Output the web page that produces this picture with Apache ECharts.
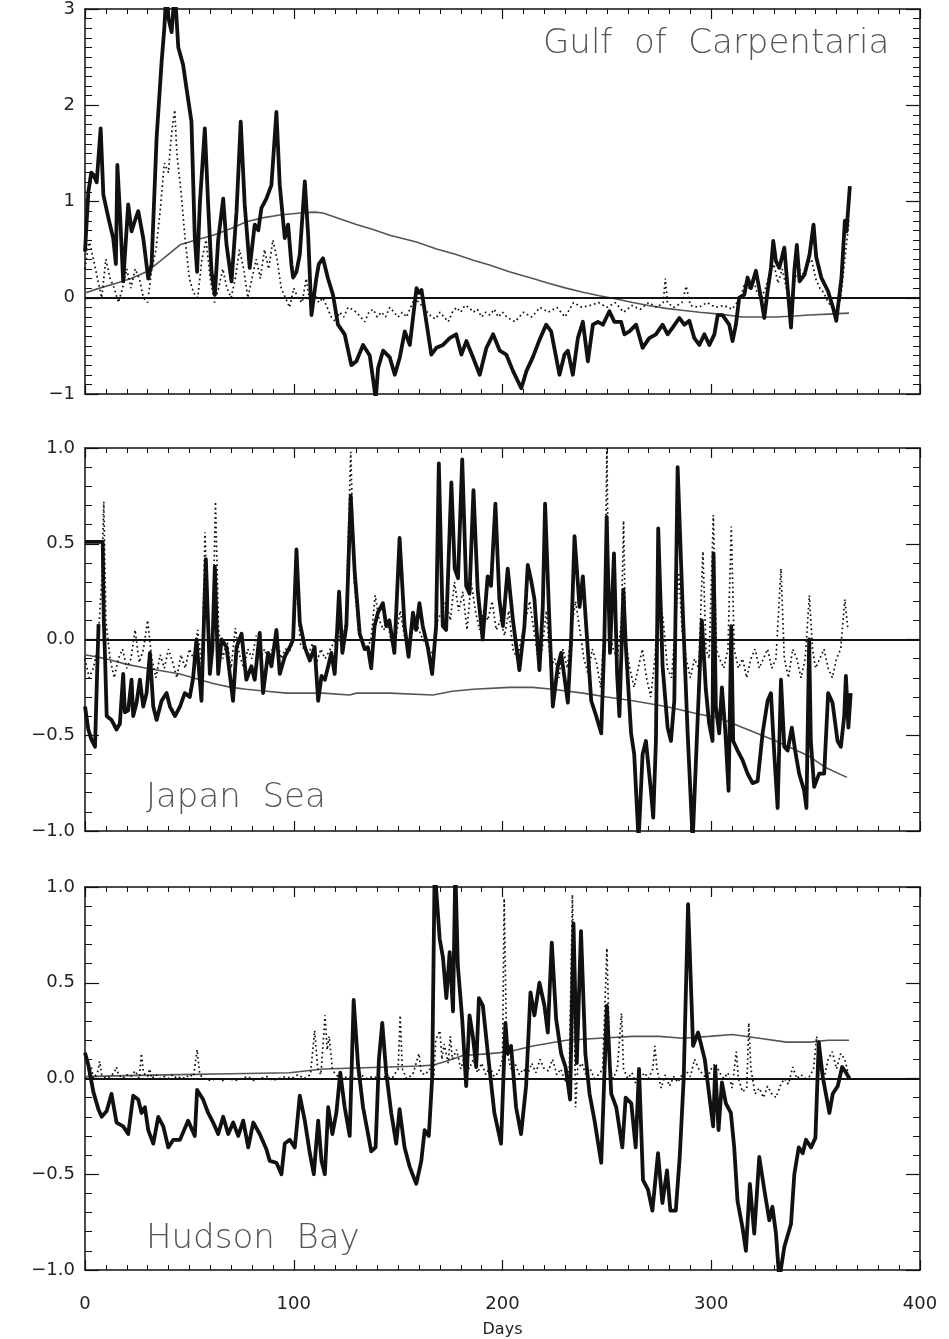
<!DOCTYPE html>
<html>
<head>
<meta charset="utf-8">
<script src="https://cdn.jsdelivr.net/npm/echarts/dist/echarts.min.js"></script>
<style>
  html, body { margin: 0; padding: 0; background: #fff; }
  #chart { width: 949px; height: 1339px; }
</style>
</head>
<body>
<div id="chart"></div>
<script>
// [day, value] pairs
const gulfSolid = [[0,0.48],[1.6,1.10],[3,1.3],[4,1.28],[5.6,1.2],[7.5,1.76],[8.8,1.07],[11.2,0.83],[13.5,0.62],[14.8,0.35],[15.5,1.38],[16.7,0.9],[18.3,0.17],[20.7,0.97],[22.3,0.69],[23.9,0.8],[25.5,0.9],[27.9,0.62],[30.3,0.2],[31.9,0.35],[34.3,1.66],[36.7,2.45],[38,2.8],[39,3.2],[40,2.9],[41.5,2.76],[43,3.2],[44.7,2.6],[47,2.42],[48.6,2.18],[51,1.83],[52.6,0.62],[53.7,0.27],[55,0.97],[57.4,1.76],[59,0.97],[60.6,0.27],[62.2,0.03],[63.8,0.6],[66.2,1.03],[67.8,0.55],[70.2,0.17],[72.6,0.9],[74.6,1.83],[76.5,0.97],[78.9,0.31],[81.3,0.76],[83,0.7],[84.5,0.93],[86.9,1.03],[89.3,1.17],[91.7,1.93],[93.3,1.17],[95.7,0.62],[97.3,0.76],[98.9,0.34],[99.7,0.21],[101.3,0.27],[102.9,0.45],[105.3,1.21],[106.9,0.65],[108.5,-0.18],[110.8,0.20],[112,0.35],[114,0.41],[116.4,0.2],[118.8,0.03],[121.2,-0.28],[124.4,-0.38],[127.6,-0.70],[130,-0.66],[133.2,-0.49],[136.4,-0.6],[139.3,-1.05],[140.4,-0.73],[142.8,-0.55],[146,-0.62],[148.4,-0.80],[150.8,-0.62],[153.2,-0.35],[155.6,-0.49],[158.8,0.10],[160,0.05],[161.2,0.08],[163.5,-0.25],[165.9,-0.59],[168.3,-0.52],[171.5,-0.49],[174.7,-0.42],[177.8,-0.38],[180.3,-0.59],[182.7,-0.45],[185.9,-0.62],[189.1,-0.80],[192.3,-0.52],[195.5,-0.38],[198.7,-0.55],[201.8,-0.59],[205,-0.76],[209,-0.94],[211.5,-0.76],[214.5,-0.62],[217.5,-0.45],[220.9,-0.28],[223.3,-0.35],[225.7,-0.62],[227.3,-0.80],[229.7,-0.59],[231.3,-0.55],[233.7,-0.80],[236.1,-0.42],[238.5,-0.25],[240.9,-0.66],[243.3,-0.28],[245.7,-0.25],[248.1,-0.28],[251.2,-0.14],[253.6,-0.25],[256.8,-0.25],[258.4,-0.38],[260.8,-0.35],[264,-0.28],[267.1,-0.52],[270.3,-0.42],[273.5,-0.38],[276.7,-0.28],[279.1,-0.38],[281.5,-0.31],[284.7,-0.21],[287.1,-0.28],[289.5,-0.24],[291.9,-0.42],[294.3,-0.49],[296.7,-0.38],[299.1,-0.49],[301.5,-0.38],[303.1,-0.18],[305.4,-0.18],[308.6,-0.28],[310.2,-0.45],[311.8,-0.28],[313.4,0.0],[315.8,0.03],[317.4,0.21],[319,0.1],[321.4,0.28],[323.8,0.0],[325.4,-0.21],[327,0.07],[328.6,0.31],[329.7,0.59],[331,0.38],[332.6,0.31],[335,0.52],[336.6,0.1],[338.2,-0.31],[339.8,0.28],[341,0.55],[342.3,0.17],[344.7,0.24],[347.1,0.45],[349,0.76],[350.3,0.42],[352.7,0.21],[355.9,0.07],[358.3,-0.1],[359.9,-0.24],[362.4,0.21],[364,0.80],[364.8,0.69],[366.4,1.16]];
const gulfDotted = [[0,0.3],[2,0.6],[4,0.4],[6,0.2],[8,0.0],[10,0.4],[12,0.2],[14,0.1],[16,-0.05],[18,0.1],[20,0.3],[22,0.1],[24,0.3],[26,0.2],[28,0.0],[30,-0.05],[32,0.3],[34,0.5],[36,0.9],[38,1.4],[40,1.3],[41,1.6],[42,1.8],[43,1.95],[44,1.5],[46,1.1],[48,0.6],[50,0.2],[52,0.05],[54,0.0],[56,0.4],[58,0.6],[60,0.2],[62,-0.05],[64,0.1],[66,0.3],[68,0.1],[70,0.0],[72,0.2],[74,0.5],[76,0.3],[78,0.0],[80,0.2],[82,0.4],[84,0.2],[86,0.5],[88,0.3],[90,0.6],[92,0.4],[94,0.1],[96,0.0],[98,-0.1],[100,0.1],[102,0.0],[104,-0.05],[106,0.2],[108,-0.1],[110,0.05],[112,-0.05],[114,0.0],[116,-0.1],[118,-0.2],[120,-0.25],[122,-0.15],[124,-0.2],[126,-0.1],[128,-0.12],[130,-0.15],[132,-0.2],[134,-0.25],[136,-0.15],[138,-0.12],[140,-0.2],[142,-0.15],[144,-0.2],[146,-0.1],[148,-0.15],[150,-0.2],[152,-0.15],[154,-0.2],[156,-0.1],[158,0.0],[160,-0.05],[162,-0.1],[164,-0.15],[166,-0.2],[168,-0.22],[170,-0.15],[172,-0.2],[174,-0.25],[176,-0.15],[178,-0.1],[180,-0.15],[182,-0.08],[184,-0.1],[186,-0.15],[188,-0.12],[190,-0.2],[192,-0.15],[194,-0.18],[196,-0.12],[198,-0.2],[200,-0.15],[202,-0.2],[206,-0.25],[210,-0.15],[214,-0.2],[218,-0.1],[222,-0.15],[226,-0.1],[230,-0.2],[234,-0.05],[238,-0.1],[242,-0.08],[246,-0.05],[250,-0.1],[254,-0.05],[258,-0.15],[262,-0.08],[266,-0.12],[270,-0.05],[274,-0.1],[277,-0.05],[278,0.2],[279,-0.05],[282,-0.1],[286,-0.05],[288,0.12],[290,-0.08],[294,-0.1],[298,-0.05],[302,-0.1],[306,-0.08],[310,-0.12],[314,0.0],[316,0.15],[318,0.1],[320,0.2],[322,0.05],[324,0.0],[326,0.1],[328,0.25],[330,0.35],[332,0.15],[334,0.3],[336,0.1],[338,-0.1],[340,0.2],[342,0.3],[344,0.25],[346,0.35],[348,0.4],[350,0.2],[352,0.1],[354,0.05],[356,-0.05],[358,-0.1],[360,-0.15],[362,0.0],[364,0.4],[366,0.8]];
const gulfTrend = [[0,0.05],[7,0.1],[15,0.15],[22,0.2],[29.5,0.27],[36,0.38],[45.5,0.55],[53,0.6],[61.4,0.65],[70,0.72],[77.3,0.79],[85,0.83],[93.3,0.86],[103,0.88],[110,0.89],[114,0.88],[122,0.82],[130,0.76],[138,0.71],[146,0.65],[158.8,0.58],[168,0.51],[177.8,0.45],[186,0.39],[193.8,0.34],[203.3,0.27],[214.5,0.20],[222,0.15],[230.5,0.10],[238,0.06],[246.4,0.02],[254,-0.01],[262.4,-0.05],[270,-0.08],[278.3,-0.11],[286,-0.13],[294.3,-0.15],[303.9,-0.17],[315,-0.2],[331,-0.2],[340,-0.19],[347,-0.18],[356,-0.17],[366,-0.16]];

const japanSolid = [[0,-0.35],[1.6,-0.47],[3,-0.52],[4.8,-0.56],[6,-0.1],[6.5,0.08],[6.6,null],[0,0.51],[8.5,0.51],[9,0.1],[9.6,-0.09],[10.4,-0.40],[12.7,-0.42],[15.1,-0.47],[16.7,-0.44],[18.3,-0.18],[19.1,-0.38],[20.7,-0.37],[22.3,-0.21],[23.1,-0.40],[24.7,-0.33],[26.3,-0.21],[27.9,-0.35],[29.5,-0.28],[31.1,-0.07],[32.7,-0.35],[34.3,-0.42],[36.7,-0.32],[39.1,-0.28],[40.7,-0.35],[43.1,-0.40],[45.5,-0.35],[47.8,-0.28],[50.2,-0.30],[51.8,-0.2],[53.4,0.0],[55.8,-0.32],[57.9,0.42],[59.8,-0.18],[61,-0.05],[62.2,0.38],[63.8,-0.18],[65.4,0.0],[67.8,-0.04],[70.9,-0.32],[72.6,-0.04],[75,0.03],[77.3,-0.21],[79.7,-0.14],[81.3,-0.21],[83.7,0.035],[85.3,-0.28],[87.7,-0.07],[89.3,-0.14],[91.7,0.05],[93.3,-0.18],[95.7,-0.09],[98.1,-0.04],[99.7,0.0],[101.3,0.47],[102.9,0.09],[105.3,-0.04],[107.7,-0.11],[110,-0.04],[111.7,-0.32],[113.3,-0.19],[114.9,-0.21],[116.5,-0.14],[118,-0.07],[119.6,-0.18],[120.4,-0.04],[121.7,0.25],[123.3,-0.07],[125.2,0.07],[127.3,0.75],[129.2,0.35],[131.6,0.03],[134,-0.05],[135.5,-0.04],[137.1,-0.15],[138.7,0.07],[140.3,0.14],[142.7,0.19],[144.3,0.07],[145.8,0.10],[148.2,-0.07],[150.7,0.53],[153.1,0.07],[155,-0.09],[157.1,0.14],[158.6,0.05],[160.2,0.19],[161.8,0.07],[164.2,-0.04],[166.3,-0.18],[168.2,0.07],[169.5,0.92],[171.4,0.07],[173,0.05],[175.5,0.82],[177.1,0.37],[178.7,0.32],[180.7,0.94],[182.6,0.28],[184.2,0.24],[186.1,0.78],[188.1,0.26],[190.5,0.0],[192.9,0.33],[194.5,0.28],[196.6,0.71],[198.5,0.21],[200.2,0.07],[202.5,0.37],[205,0.1],[208.1,-0.16],[210.5,0.07],[212.1,0.39],[213.7,0.31],[215.3,0.21],[217.7,-0.16],[219.3,0.17],[220.4,0.71],[222.2,0.17],[224.1,-0.35],[226.5,-0.14],[228.1,-0.07],[231.3,-0.33],[232.9,0.0],[234.5,0.54],[236.9,0.17],[238.5,0.33],[240.1,0.07],[242.5,-0.32],[244.9,-0.40],[247.3,-0.49],[248.8,0.0],[249.9,0.64],[251.5,-0.07],[253.4,0.45],[254.9,-0.18],[256,-0.40],[257.9,0.26],[259.1,-0.04],[261.6,-0.49],[263.1,-0.60],[265.2,-1.05],[267.1,-0.6],[268.7,-0.53],[271.1,-0.79],[272.2,-0.93],[273.5,-0.53],[274.6,0.58],[276.7,-0.14],[279.1,-0.46],[280.7,-0.53],[282.3,-0.32],[283.9,0.90],[286.3,0.17],[288.7,-0.49],[291.1,-1.05],[293.4,-0.44],[295.5,0.1],[297.4,-0.26],[299,-0.44],[300.6,-0.53],[301.1,0.45],[302.2,-0.35],[303.8,-0.49],[305.1,-0.25],[306.7,-0.47],[308.3,-0.79],[309.6,0.07],[310.5,-0.53],[312.6,-0.58],[315,-0.63],[317.4,-0.70],[319.8,-0.75],[322.2,-0.74],[324.6,-0.49],[327,-0.32],[328.6,-0.28],[330.2,-0.6],[331.8,-0.88],[333.4,-0.21],[335,-0.56],[336.6,-0.58],[338.6,-0.46],[340.2,-0.58],[342.1,-0.70],[344.5,-0.79],[345.6,-0.88],[346.9,0.0],[347.7,-0.53],[349.3,-0.77],[351.7,-0.70],[354.1,-0.70],[356,-0.28],[358.1,-0.33],[360.5,-0.53],[362.1,-0.56],[363.7,-0.40],[364.5,-0.19],[365.7,-0.46],[366.8,-0.28]];
const japanDotted = [[0,-0.1],[2,-0.2],[4,-0.15],[6,-0.05],[8,0.3],[9,0.72],[10,0.1],[12,-0.1],[14,-0.2],[16,-0.1],[18,-0.05],[20,-0.15],[22,-0.1],[24,0.05],[26,-0.12],[28,-0.05],[30,0.1],[32,-0.1],[34,-0.2],[36,-0.08],[38,-0.15],[40,-0.05],[42,-0.12],[44,-0.2],[46,-0.08],[48,-0.15],[50,-0.05],[52,-0.1],[54,0.05],[56,-0.15],[57.5,0.56],[59,0.0],[61,-0.05],[62.5,0.72],[64,0.05],[66,-0.1],[68,0.0],[70,-0.15],[72,0.06],[74,-0.08],[76,-0.15],[78,-0.05],[80,-0.1],[82,0.02],[84,-0.1],[86,-0.05],[88,-0.12],[90,-0.04],[92,0.0],[94,-0.1],[96,-0.05],[98,-0.06],[100,0.0],[101.5,0.35],[103,-0.02],[105,-0.05],[107,-0.08],[109,-0.02],[111,-0.12],[113,-0.05],[115,-0.1],[117,-0.06],[119,-0.02],[121,0.05],[123,-0.03],[125,0.1],[127.3,0.98],[129,0.3],[131,0.05],[133,-0.02],[135,-0.05],[137,0.0],[139,0.23],[141,0.1],[143,0.05],[145,0.08],[147,-0.02],[149,0.02],[151,0.15],[153,0.02],[155,-0.03],[157,0.05],[159,0.08],[161,0.02],[163,-0.02],[165,-0.05],[167,-0.08],[169,0.1],[171,0.15],[173,0.2],[175,0.1],[177,0.3],[179,0.15],[181,0.25],[183,0.05],[185,0.3],[187,0.15],[189,0.05],[191,0.15],[193,0.1],[195,0.2],[197,0.05],[199,0.1],[201,0.02],[203,0.15],[205,-0.05],[207,-0.1],[209,0.0],[211,0.1],[213,0.2],[215,0.05],[217,-0.1],[219,-0.05],[221,0.15],[223,-0.15],[225,-0.1],[227,-0.2],[229,-0.05],[231,-0.15],[233,0.05],[235,0.2],[237,0.05],[239,-0.1],[241,-0.18],[243,-0.05],[245,-0.12],[247,-0.25],[249,0.1],[250,1.0],[251,0.05],[253,-0.05],[255,-0.1],[257,0.1],[258,0.62],[259,0.0],[261,-0.15],[263,-0.25],[265,-0.15],[267,-0.05],[269,-0.2],[271,-0.3],[273,-0.1],[275,0.25],[277,0.1],[279,-0.15],[281,-0.2],[283,0.1],[284.5,0.35],[286,0.05],[288,-0.1],[290,-0.2],[292,-0.1],[294,-0.15],[296,0.46],[297.5,-0.05],[299,-0.1],[301,0.65],[302.5,-0.05],[304,-0.1],[306,-0.15],[308,-0.05],[309.6,0.59],[311,-0.05],[313,-0.15],[315,-0.1],[317,-0.2],[319,-0.1],[321,-0.05],[323,-0.15],[325,-0.1],[327,-0.05],[329,-0.15],[331,-0.1],[333.4,0.37],[335,-0.1],[337,-0.2],[339,-0.05],[341,-0.1],[343,-0.2],[345,-0.1],[347,0.23],[348.5,-0.05],[350,-0.15],[352,-0.1],[354,-0.05],[356,-0.15],[358,-0.2],[360,-0.1],[362,-0.05],[364,0.21],[365.5,0.05]];
const japanTrend = [[0,-0.08],[10,-0.1],[20,-0.13],[29.5,-0.15],[40,-0.17],[45.5,-0.18],[55,-0.21],[61.4,-0.23],[70,-0.25],[77.3,-0.26],[87,-0.27],[96.5,-0.28],[114,-0.28],[126.8,-0.29],[130,-0.28],[146,-0.28],[166.7,-0.29],[176,-0.27],[186,-0.26],[203.3,-0.25],[214.5,-0.25],[224,-0.26],[238.5,-0.28],[250,-0.3],[262.4,-0.32],[278.3,-0.35],[294.3,-0.39],[303.9,-0.41],[315,-0.46],[331,-0.53],[347,-0.61],[355,-0.67],[365,-0.72]];

const hudsonSolid = [[0,0.135],[1.6,0.07],[4,-0.07],[6.4,-0.16],[8,-0.20],[10.4,-0.17],[12.7,-0.08],[15.1,-0.23],[18.3,-0.25],[20.7,-0.29],[23.1,-0.09],[25.5,-0.11],[27.1,-0.18],[28.7,-0.15],[30.3,-0.27],[32.7,-0.34],[35.1,-0.2],[37.5,-0.25],[39.9,-0.36],[42.3,-0.32],[45.5,-0.32],[49.4,-0.22],[52.6,-0.30],[53.7,-0.06],[56.6,-0.11],[59,-0.18],[61.4,-0.23],[63.8,-0.29],[66.2,-0.2],[68.6,-0.29],[71,-0.23],[73.4,-0.3],[75.8,-0.22],[78.2,-0.36],[80.6,-0.23],[83.7,-0.29],[86.9,-0.37],[88.5,-0.43],[91.7,-0.44],[94.1,-0.50],[95.7,-0.34],[98.1,-0.32],[100.5,-0.36],[102.9,-0.09],[105.3,-0.22],[107.7,-0.39],[109.6,-0.50],[111.7,-0.22],[113.3,-0.43],[114.9,-0.50],[116.5,-0.15],[118.5,-0.29],[120.4,-0.18],[122.3,0.03],[124.4,-0.15],[126.8,-0.30],[128.7,0.41],[130.8,0.07],[133.2,-0.15],[135.6,-0.29],[137.1,-0.38],[139.2,-0.36],[140.8,0.1],[142.4,0.29],[144.3,0.03],[146.7,-0.18],[149.1,-0.34],[150.7,-0.16],[153.1,-0.36],[155.5,-0.46],[158.7,-0.55],[161.1,-0.43],[162.7,-0.27],[164.7,-0.3],[166.3,0.0],[167.5,1.1],[169.9,0.73],[171.5,0.63],[173.1,0.42],[174.7,0.66],[176.3,0.35],[177.4,1.1],[178.6,0.59],[180.7,0.31],[182.6,-0.04],[184.2,0.33],[185.8,0.22],[187.4,0.06],[188.7,0.42],[190.6,0.38],[193,0.13],[196.1,-0.18],[199.3,-0.34],[201.4,0.29],[202.5,0.13],[204.1,0.17],[206.5,-0.15],[208.9,-0.29],[211.3,-0.04],[213.4,0.45],[215.3,0.33],[217.7,0.50],[220.1,0.38],[221.7,0.24],[223.6,0.71],[225.7,0.31],[228.1,0.13],[230.2,0.06],[232.4,-0.11],[234,0.81],[235.6,0.08],[237.6,0.77],[239.7,0.13],[241.7,-0.08],[244.1,-0.22],[247.3,-0.44],[250,0.38],[252.1,-0.08],[254.5,-0.15],[257.4,-0.36],[259,-0.1],[261.7,-0.13],[263.8,-0.36],[265.4,0.05],[267.3,-0.53],[269.7,-0.58],[271.8,-0.69],[274.5,-0.39],[276.6,-0.65],[278.8,-0.48],[280.4,-0.69],[283,-0.69],[284.9,-0.41],[286.8,0.0],[288.9,0.91],[291.3,0.17],[293.7,0.24],[296.9,0.1],[300.9,-0.25],[301.9,0.06],[303.5,-0.27],[305.1,-0.02],[307,-0.13],[309.4,-0.18],[311,-0.36],[312.6,-0.64],[315,-0.78],[316.6,-0.90],[318.5,-0.55],[320.6,-0.81],[323,-0.41],[325.4,-0.58],[327.8,-0.74],[329.3,-0.67],[331,-0.81],[332.6,-1.05],[335,-0.88],[338.2,-0.76],[339.8,-0.5],[341.9,-0.36],[343.8,-0.39],[345.4,-0.32],[347.8,-0.36],[349.9,-0.31],[351.5,0.19],[353.4,0.01],[356.6,-0.18],[358.2,-0.08],[360.6,-0.04],[362.7,0.06],[364.6,0.03],[366.2,0.0]];
const hudsonDotted = [[0,0.0],[2,0.02],[3,0.06],[4,0.0],[6,0.03],[7,0.09],[8,0.02],[10,0.0],[12,0.01],[14,0.03],[15,0.06],[16,0.02],[18,0.0],[20,0.02],[22,0.01],[24,0.04],[26,0.0],[27,0.13],[28,0.03],[30,0.01],[31,0.05],[32,0.0],[34,0.02],[36,0.0],[38,0.01],[40,0.0],[42,0.02],[44,0.0],[46,0.01],[48,0.0],[50,0.02],[52,0.01],[53.7,0.15],[55,0.02],[57,0.0],[60,-0.01],[63,0.0],[66,-0.01],[69,0.0],[72,-0.01],[75,0.0],[78,0.01],[81,-0.01],[84,0.0],[87,0.01],[90,-0.01],[93,0.0],[96,0.01],[99,0.0],[102,0.02],[105,0.0],[108,0.02],[110,0.25],[111.5,0.05],[113,0.02],[115,0.33],[116,0.15],[117,0.22],[118.5,0.05],[120,0.02],[123,0.0],[126,0.01],[129,0.0],[132,0.02],[135,0.0],[138,0.01],[141,0.0],[144,0.01],[147,0.0],[150,0.05],[151,0.33],[152,0.05],[154,0.0],[157,0.02],[160,0.13],[161,0.03],[163,0.02],[165,0.05],[167,0.0],[168,0.2],[170,0.25],[171,0.1],[172,0.18],[174,0.08],[175,0.22],[176,0.1],[178,0.15],[180,0.05],[182,0.12],[184,0.05],[186,0.1],[188,0.03],[190,0.08],[192,0.02],[194,0.06],[196,0.01],[198,0.03],[200,0.1],[200.8,0.94],[202,0.15],[204,0.05],[206,0.08],[208,0.02],[210,0.05],[212,0.02],[214,0.08],[216,0.03],[218,0.1],[220,0.05],[222,0.04],[224,0.1],[226,0.02],[228,0.05],[230,-0.02],[232,0.05],[233.5,0.96],[235,-0.15],[236,0.05],[238,0.08],[240,0.02],[242,0.05],[244,0.0],[246,0.02],[248,0.05],[250,0.68],[251.5,0.05],[253,0.0],[255,0.05],[257,0.34],[258,0.05],[260,0.0],[262,0.03],[264,-0.03],[266,0.0],[268,0.03],[270,0.0],[272,0.05],[273,0.17],[274,0.05],[276,-0.05],[278,0.02],[280,-0.04],[282,0.01],[284,-0.02],[286,0.02],[288,0.04],[290,0.01],[292,0.1],[294,0.05],[296,0.02],[298,0.0],[300,0.05],[302,0.08],[304,0.03],[306,0.0],[308,0.03],[310,-0.05],[312,0.14],[313,0.0],[315,-0.07],[317,-0.05],[318,0.29],[319,0.05],[321,-0.08],[323,-0.05],[325,-0.1],[327,-0.04],[329,-0.08],[331,-0.1],[333,-0.04],[335,0.0],[337,-0.03],[339,0.06],[341,0.0],[343,0.02],[345,0.0],[347,0.01],[349,0.05],[350.5,0.22],[352,0.05],[354,0.0],[356,0.1],[358,0.14],[360,0.05],[362,0.13],[364,0.1],[365.5,0.03]];
const hudsonTrend = [[0,0.01],[20,0.015],[45,0.02],[70,0.025],[98,0.03],[114,0.05],[130,0.055],[146,0.06],[160,0.065],[167,0.07],[173,0.09],[181,0.12],[194,0.13],[203,0.14],[214.5,0.17],[230.5,0.2],[246.4,0.21],[262.4,0.22],[275,0.22],[286.4,0.21],[299,0.22],[310,0.23],[323,0.21],[336,0.19],[347,0.19],[356,0.2],[366,0.2]];

const panelNames = ['Gulf  of  Carpentaria', 'Japan  Sea', 'Hudson  Bay'];
const xTicks = [0, 100, 200, 300, 400];

const panels = [
  {top: 9, height: 385, min: -1, max: 3, interval: 1, minor: 10, solid: gulfSolid, dotted: gulfDotted, trend: gulfTrend},
  {top: 448, height: 383, min: -1, max: 1, interval: 0.5, minor: 5, solid: japanSolid, dotted: japanDotted, trend: japanTrend},
  {top: 887, height: 383, min: -1, max: 1, interval: 0.5, minor: 5, solid: hudsonSolid, dotted: hudsonDotted, trend: hudsonTrend}
];

const ink = '#111';
const fontFamily = 'DejaVu Sans, sans-serif';

const grid = [], xAxis = [], yAxis = [], series = [];

panels.forEach(function (p, i) {
  grid.push({left: 85, width: 835, top: p.top, height: p.height});
  ['bottom', 'top'].forEach(function (pos) {
    const labelled = pos === 'bottom' && i === 2;
    xAxis.push({
      type: 'value', gridIndex: i, position: pos,
      min: xTicks[0], max: xTicks[xTicks.length - 1], interval: 100,
      axisLine: {show: true, onZero: false, lineStyle: {color: ink, width: 1.5}},
      axisTick: {show: true, inside: true, length: 10, lineStyle: {color: ink, width: 1.2}},
      minorTick: {show: true, splitNumber: 10, length: 5, lineStyle: {color: ink, width: 1}},
      splitLine: {show: false},
      axisLabel: {show: labelled, margin: 25, color: '#222', fontSize: 18, fontFamily: fontFamily},
      name: labelled ? 'Days' : '',
      nameLocation: 'middle', nameGap: 52,
      nameTextStyle: {color: '#222', fontSize: 16, fontFamily: fontFamily}
    });
  });
  ['left', 'right'].forEach(function (pos) {
    yAxis.push({
      type: 'value', gridIndex: i, position: pos,
      min: p.min, max: p.max, interval: p.interval,
      axisLine: {show: true, onZero: false, lineStyle: {color: ink, width: 1.5}},
      axisTick: {show: true, inside: true, length: 14, lineStyle: {color: ink, width: 1.2}},
      minorTick: {show: true, splitNumber: p.minor, length: 7, lineStyle: {color: ink, width: 1}},
      splitLine: {show: false},
      axisLabel: {
        show: pos === 'left', margin: 10, color: '#222', fontSize: 18, fontFamily: fontFamily,
        formatter: function (v) {
          const s = p.interval < 1 ? v.toFixed(1) : String(v);
          return s.replace('-', '\u2212');
        }
      }
    });
  });

  series.push({
    type: 'line', xAxisIndex: 2 * i, yAxisIndex: 2 * i,
    data: p.trend, showSymbol: false, symbol: 'none',
    lineStyle: {color: '#555', width: 1.6},
    markLine: {
      silent: true, symbol: ['none', 'none'], label: {show: false},
      lineStyle: {color: ink, width: 2, type: 'solid'},
      data: [{yAxis: 0}]
    }
  });
  series.push({
    type: 'line', xAxisIndex: 2 * i, yAxisIndex: 2 * i,
    data: p.dotted, showSymbol: false, symbol: 'none',
    lineStyle: {color: ink, width: 1.7, type: [1.7, 3]}
  });
  series.push({
    type: 'line', xAxisIndex: 2 * i, yAxisIndex: 2 * i,
    data: p.solid, showSymbol: false, symbol: 'none', connectNulls: false,
    lineStyle: {color: ink, width: 3.8, join: 'round'}
  });
});

const titleStyle = {color: '#555', fontSize: 34, fontWeight: 200, fontFamily: fontFamily};
const title = [
  {text: panelNames[0], left: 543, top: 27, padding: 0, textStyle: titleStyle},
  {text: panelNames[1], left: 146, top: 781, padding: 0, textStyle: titleStyle},
  {text: panelNames[2], left: 146, top: 1222, padding: 0, textStyle: titleStyle}
];

const chart = echarts.init(document.getElementById('chart'));
chart.setOption({
  animation: false,
  backgroundColor: '#fff',
  title: title,
  grid: grid,
  xAxis: xAxis,
  yAxis: yAxis,
  series: series
});
</script>
</body>
</html>
